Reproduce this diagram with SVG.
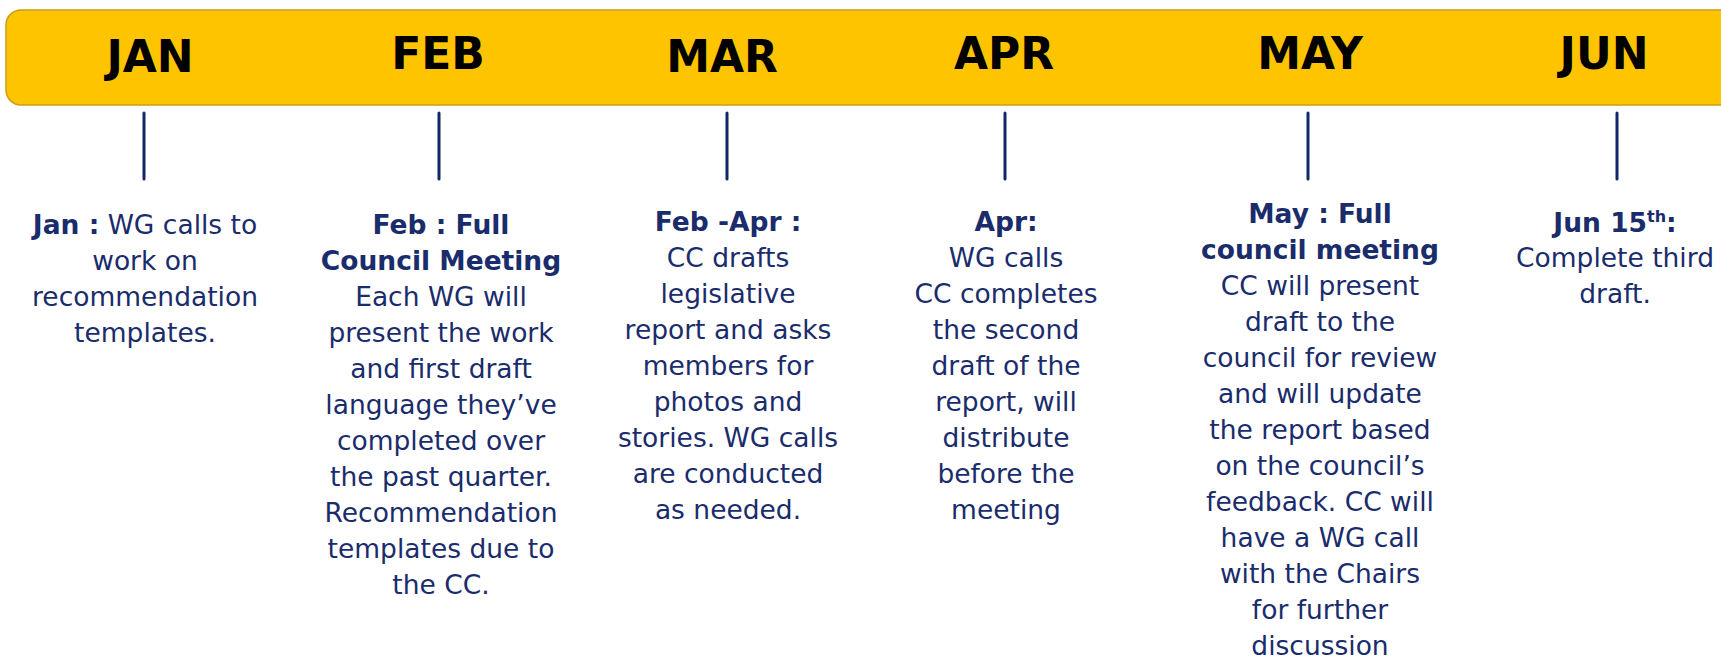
<svg xmlns="http://www.w3.org/2000/svg" width="1721" height="665" viewBox="0 0 1721 665">
<style>
  .bar { fill: #FFC400; stroke: #C8A014; stroke-width: 1.5; }
  .month { font-family: "DejaVu Sans", Verdana, sans-serif; font-weight: bold; font-size: 44px; fill: #000; text-anchor: middle; }
  .tick { stroke: #12286B; stroke-width: 3; stroke-linecap: round; }
  .body { font-family: "DejaVu Sans", Verdana, sans-serif; font-size: 26.5px; fill: #1A2C6B; text-anchor: middle; }
  .b { font-weight: bold; }
</style>
<rect width="1721" height="665" fill="#ffffff"/>
<g id="timeline-bar">
  <rect class="bar" x="6" y="10" width="1740" height="95" rx="15" ry="15"/>
  <text class="month" x="150" y="72">JAN</text>
  <text class="month" x="438" y="69">FEB</text>
  <text class="month" x="722" y="72">MAR</text>
  <text class="month" x="1004" y="69">APR</text>
  <text class="month" x="1310" y="69">MAY</text>
  <text class="month" x="1604" y="69">JUN</text>
</g>
<g id="connectors">
  <line class="tick" x1="144" y1="113" x2="144" y2="179"/>
  <line class="tick" x1="439" y1="113" x2="439" y2="179"/>
  <line class="tick" x1="727" y1="113" x2="727" y2="179"/>
  <line class="tick" x1="1005" y1="113" x2="1005" y2="179"/>
  <line class="tick" x1="1308" y1="113" x2="1308" y2="179"/>
  <line class="tick" x1="1617" y1="113" x2="1617" y2="179"/>
</g>
<g id="node-jan">
  <text class="body" x="145" y="234"><tspan class="b">Jan :</tspan> WG calls to</text>
  <text class="body" x="145" y="270">work on</text>
  <text class="body" x="145" y="306">recommendation</text>
  <text class="body" x="145" y="342">templates.</text>
</g>
<g id="node-feb">
  <text class="body b" x="441" y="234">Feb : Full</text>
  <text class="body b" x="441" y="270">Council Meeting</text>
  <text class="body" x="441" y="306">Each WG will</text>
  <text class="body" x="441" y="342">present the work</text>
  <text class="body" x="441" y="378">and first draft</text>
  <text class="body" x="441" y="414">language they’ve</text>
  <text class="body" x="441" y="450">completed over</text>
  <text class="body" x="441" y="486">the past quarter.</text>
  <text class="body" x="441" y="522">Recommendation</text>
  <text class="body" x="441" y="558">templates due to</text>
  <text class="body" x="441" y="594">the CC.</text>
</g>
<g id="node-mar">
  <text class="body b" x="728" y="231">Feb -Apr :</text>
  <text class="body" x="728" y="267">CC drafts</text>
  <text class="body" x="728" y="303">legislative</text>
  <text class="body" x="728" y="339">report and asks</text>
  <text class="body" x="728" y="375">members for</text>
  <text class="body" x="728" y="411">photos and</text>
  <text class="body" x="728" y="447">stories. WG calls</text>
  <text class="body" x="728" y="483">are conducted</text>
  <text class="body" x="728" y="519">as needed.</text>
</g>
<g id="node-apr">
  <text class="body b" x="1006" y="231">Apr:</text>
  <text class="body" x="1006" y="267">WG calls</text>
  <text class="body" x="1006" y="303">CC completes</text>
  <text class="body" x="1006" y="339">the second</text>
  <text class="body" x="1006" y="375">draft of the</text>
  <text class="body" x="1006" y="411">report, will</text>
  <text class="body" x="1006" y="447">distribute</text>
  <text class="body" x="1006" y="483">before the</text>
  <text class="body" x="1006" y="519">meeting</text>
</g>
<g id="node-may">
  <text class="body b" x="1320" y="223">May : Full</text>
  <text class="body b" x="1320" y="259">council meeting</text>
  <text class="body" x="1320" y="295">CC will present</text>
  <text class="body" x="1320" y="331">draft to the</text>
  <text class="body" x="1320" y="367">council for review</text>
  <text class="body" x="1320" y="403">and will update</text>
  <text class="body" x="1320" y="439">the report based</text>
  <text class="body" x="1320" y="475">on the council’s</text>
  <text class="body" x="1320" y="511">feedback. CC will</text>
  <text class="body" x="1320" y="547">have a WG call</text>
  <text class="body" x="1320" y="583">with the Chairs</text>
  <text class="body" x="1320" y="619">for further</text>
  <text class="body" x="1320" y="655">discussion</text>
</g>
<g id="node-jun">
  <text class="body b" x="1615" y="232">Jun 15<tspan font-size="16" dy="-10">th</tspan><tspan dy="10">:</tspan></text>
  <text class="body" x="1615" y="267">Complete third</text>
  <text class="body" x="1615" y="303">draft.</text>
</g>
</svg>
